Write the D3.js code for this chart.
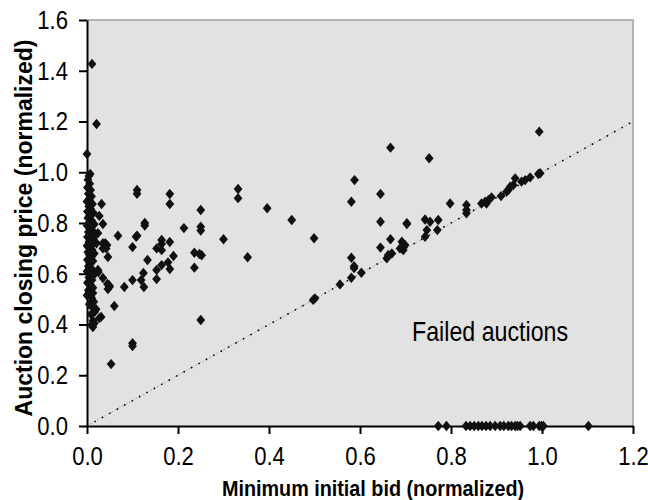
<!DOCTYPE html>
<html>
<head>
<meta charset="utf-8">
<script src="https://cdn.jsdelivr.net/npm/d3@7"></script>
<style>
  body { margin: 0; background: #fff; }
  svg { display: block; font-family: "Liberation Sans", Arial, sans-serif; }
</style>
</head>
<body>
<svg id="chart" width="648" height="500"></svg>
<script>
// auctions with a min bid close to zero: [bid, closing price]
const nearZero = [
  [0.011,1.427],[0.021,1.19],[0.000,1.072],[0.007,0.993],[0.004,0.985],[0.002,0.97],
  [0.006,0.955],[0.001,0.94],[0.008,0.93],[0.003,0.915],[0.010,0.905],[0.005,0.895],
  [0.000,0.885],[0.012,0.875],[0.004,0.865],[0.008,0.855],[0.001,0.845],[0.014,0.84],
  [0.006,0.83],[0.002,0.82],[0.010,0.81],[0.004,0.80],[0.016,0.795],[0.000,0.79],
  [0.008,0.78],[0.012,0.77],[0.003,0.765],[0.006,0.755],[0.018,0.75],[0.001,0.745],
  [0.009,0.735],[0.004,0.725],[0.014,0.72],[0.000,0.71],[0.007,0.705],[0.011,0.695],
  [0.002,0.685],[0.016,0.68],[0.005,0.675],[0.009,0.665],[0.001,0.655],[0.013,0.65],
  [0.006,0.64],[0.003,0.63],[0.010,0.62],[0.000,0.61],[0.007,0.60],[0.015,0.595],
  [0.004,0.585],[0.011,0.575],[0.001,0.565],[0.008,0.555],[0.013,0.545],[0.003,0.535],
  [0.006,0.525],[0.000,0.515],[0.010,0.505],[0.015,0.49],[0.005,0.48],[0.012,0.47],
  [0.017,0.45],[0.009,0.44],[0.031,0.43],[0.027,0.425],[0.013,0.415],[0.010,0.398],
  [0.016,0.405],[0.020,0.46],[0.013,0.39],[0.013,0.524],[0.025,0.607],
  [0.032,0.875],[0.027,0.828],[0.035,0.796],[0.021,0.72],[0.040,0.72],[0.024,0.76],
  [0.035,0.72],[0.044,0.713],[0.035,0.70],[0.039,0.713],[0.042,0.70],[0.046,0.666],
  [0.024,0.615],[0.035,0.583],[0.048,0.556],[0.045,0.56],[0.050,0.55],[0.046,0.54],
  [0.060,0.473],[0.053,0.244]
];

// low and medium min bids
const lowBids = [
  [0.11,0.93],[0.11,0.915],[0.182,0.914],[0.182,0.875],[0.332,0.934],[0.332,0.898],
  [0.25,0.851],[0.127,0.80],[0.127,0.79],[0.213,0.78],[0.25,0.785],[0.25,0.77],
  [0.068,0.75],[0.11,0.75],[0.108,0.746],[0.164,0.733],[0.164,0.717],[0.182,0.725],
  [0.30,0.736],[0.10,0.705],[0.153,0.70],[0.164,0.693],[0.19,0.67],[0.178,0.645],
  [0.182,0.619],[0.164,0.634],[0.153,0.615],[0.153,0.579],[0.133,0.654],[0.124,0.603],
  [0.119,0.575],[0.125,0.548],[0.10,0.575],[0.082,0.548],[0.10,0.326],[0.10,0.315],
  [0.236,0.683],[0.247,0.678],[0.252,0.673],[0.236,0.624],[0.25,0.418],[0.353,0.665],
  [0.396,0.858],[0.45,0.812],[0.499,0.74]
];

// high min bids, close to the diagonal
const highBids = [
  [0.667,1.097],[0.752,1.055],[0.588,0.969],[0.645,0.914],[0.581,0.884],[0.645,0.805],
  [0.703,0.796],[0.667,0.736],[0.645,0.703],[0.662,0.674],[0.659,0.661],[0.67,0.68],
  [0.581,0.663],[0.587,0.63],[0.587,0.622],[0.581,0.584],[0.603,0.604],[0.556,0.558],
  [0.501,0.503],[0.497,0.497],[0.994,1.16],
  [0.703,0.799],[0.798,0.877],[0.834,0.871],[0.834,0.851],[0.834,0.838],
  [0.743,0.814],[0.754,0.805],[0.747,0.772],[0.743,0.746],[0.772,0.812],[0.770,0.772],
  [0.692,0.726],[0.699,0.713],[0.688,0.70],[0.695,0.693],
  [0.867,0.877],[0.875,0.884],[0.882,0.89],[0.889,0.901],[0.878,0.877],[0.91,0.906],
  [0.926,0.93],[0.93,0.943],[0.922,0.923],[0.937,0.95],
  [0.941,0.976],[0.955,0.963],[0.963,0.969],[0.974,0.98],[0.996,0.996],[0.992,0.993]
];

// failed auctions (closing price 0)
const failedBids = [0.772,0.79,0.833,0.842,0.851,0.86,0.868,0.877,0.886,0.897,0.908,
  0.916,0.926,0.933,0.941,0.946,0.952,0.974,0.981,0.994,0.999,1.003,1.102];

const xTicks = [0, 0.2, 0.4, 0.6, 0.8, 1.0, 1.2];
const yTicks = [0, 0.2, 0.4, 0.6, 0.8, 1.0, 1.2, 1.4, 1.6];

const svg = d3.select('#chart');
const x = d3.scaleLinear().domain([0, 1.2]).range([87, 633]);
const y = d3.scaleLinear().domain([0, 1.6]).range([426, 20]);

// the original font is a narrow one: squeeze the text horizontally
function squeeze(sel, k) {
  sel.each(function () {
    const t = d3.select(this);
    const tx = +t.attr('x') || 0, ty = +t.attr('y') || 0;
    t.attr('x', 0).attr('y', 0)
      .attr('transform', `translate(${tx},${ty}) scale(${k},1)`);
  });
}

// plot area
svg.append('rect')
  .attr('x', x(0)).attr('y', y(1.6))
  .attr('width', x(1.2) - x(0)).attr('height', y(0) - y(1.6))
  .attr('fill', '#e2e2e2');
svg.append('path')
  .attr('d', `M${x(0)},${y(1.6)}H${x(1.2)}V${y(0)}`)
  .attr('fill', 'none').attr('stroke', '#b4b4b4').attr('stroke-width', 2);

// y = x reference line
const diag = [[0, 0], [1.2, 1.2]];
const line = d3.line().x(d => x(d[0])).y(d => y(d[1]));
svg.append('path').attr('d', line(diag))
  .attr('stroke', '#a8a8a8').attr('stroke-width', 1).attr('stroke-dasharray', '2,2');
svg.append('path').attr('d', line(diag))
  .attr('stroke', '#000').attr('stroke-width', 1.6).attr('stroke-dasharray', '1.5,7');

// axes
const yAxis = svg.append('g')
  .attr('transform', `translate(${x(0)},0)`)
  .call(d3.axisLeft(y).tickValues(yTicks).tickFormat(d3.format('.1f'))
    .tickSize(8).tickSizeOuter(0).tickPadding(11));
const xAxis = svg.append('g')
  .attr('transform', `translate(0,${y(0)})`)
  .call(d3.axisBottom(x).tickValues(xTicks).tickFormat(d3.format('.1f'))
    .tickSize(8).tickSizeOuter(0).tickPadding(13));
[xAxis, yAxis].forEach(g => {
  g.select('.domain').attr('stroke', '#000').attr('stroke-width', 2);
  g.selectAll('.tick line').attr('stroke', '#000').attr('stroke-width', 2);
  g.selectAll('.tick text').attr('fill', '#000')
    .style('font-size', '26px').style('font-family', '"Liberation Sans", Arial, sans-serif')
    .call(squeeze, 0.85);
});

// markers
const diamond = 'M0,-5.2L4.4,0L0,5.2L-4.4,0Z';
const points = nearZero.concat(lowBids, highBids, failedBids.map(b => [b, 0]));
svg.append('g').selectAll('path')
  .data(points)
  .enter()
  .append('path')
  .attr('d', diamond)
  .attr('transform', d => `translate(${x(d[0])},${y(d[1])})`)
  .attr('fill', '#111');

// texts
svg.append('text')
  .attr('x', 412).attr('y', 341)
  .style('font-size', '27px')
  .text('Failed auctions')
  .call(squeeze, 0.86);

svg.append('text')
  .attr('x', 373).attr('y', 496)
  .attr('text-anchor', 'middle')
  .style('font-size', '22px').style('font-weight', 'bold')
  .text('Minimum initial bid (normalized)')
  .call(squeeze, 0.9);

svg.append('text')
  .attr('transform', 'translate(32,228) rotate(-90)')
  .attr('text-anchor', 'middle')
  .style('font-size', '23px').style('font-weight', 'bold')
  .text('Auction closing price (normalized)');
</script>
</body>
</html>
